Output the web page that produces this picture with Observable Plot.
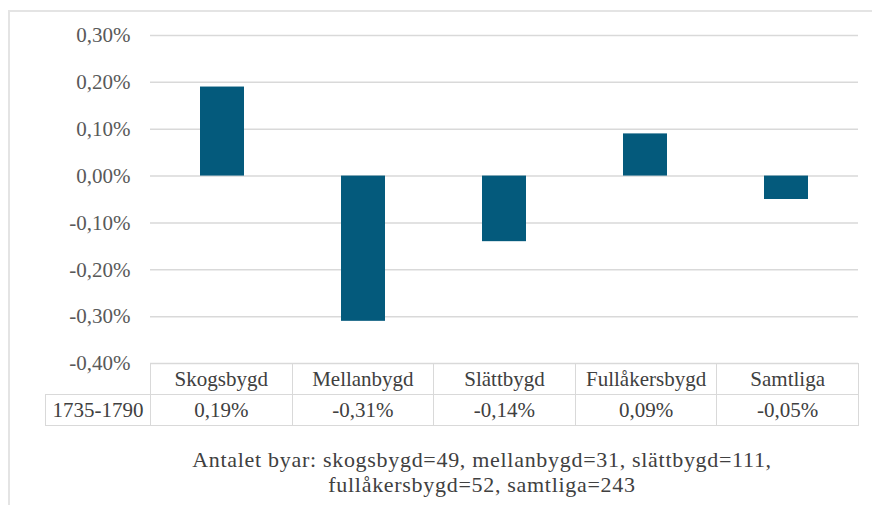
<!DOCTYPE html>
<html>
<head>
<meta charset="utf-8">
<script src="https://cdn.jsdelivr.net/npm/d3@7"></script>
<script src="https://cdn.jsdelivr.net/npm/@observablehq/plot@0.6"></script>
</head>
<body style="margin:0;background:#fff;font-family:'Liberation Serif'">
<div id="wrap" style="position:relative;width:872px;height:505px;overflow:hidden;font-family:'Liberation Serif'">
  <div id="frame" style="position:absolute;left:8px;top:10px;width:1000px;height:1000px;border-top:2px solid #e4e4e4;border-left:2px solid #e4e4e4"></div>
  <div id="chart" style="position:absolute;left:0;top:0"></div>
  <table id="tbl" style="position:absolute;left:45px;top:363px;border-collapse:collapse;table-layout:fixed;font-size:21px;color:#404040;font-family:'Liberation Serif'"></table>
  <div id="caption" style="position:absolute;left:0;top:447px;width:964px;text-align:center;font-size:22px;line-height:25px;letter-spacing:0.7px;color:#404040;font-family:'Liberation Serif'"></div>
</div>
<script>
// ---- data ----
const categories = ["Skogsbygd", "Mellanbygd", "Slättbygd", "Fullåkersbygd", "Samtliga"];
const values = [0.19, -0.31, -0.14, 0.09, -0.05];   // percent
const rowLabel = "1735-1790";
const yTicks = [-0.40, -0.30, -0.20, -0.10, 0.00, 0.10, 0.20, 0.30];
const captionLines = [
  "Antalet byar: skogsbygd=49, mellanbygd=31, slättbygd=111,",
  "fullåkersbygd=52, samtliga=243"
];

const FONT = "'Liberation Serif', 'Times New Roman', serif";
const fmt = d => (Math.abs(d) < 1e-9 ? 0 : d).toFixed(2).replace(".", ",") + "%";
const data = categories.map((c, i) => ({cat: c, value: values[i]}));

const W = 872, ML = 150, MR = 14;
const chart = Plot.plot({
  width: W, height: 364,
  marginLeft: ML, marginRight: MR, marginTop: 35, marginBottom: 1,
  style: {fontSize: "21px", fontFamily: FONT, background: "transparent", overflow: "visible"},
  x: {domain: categories, axis: null, paddingInner: 0.69, paddingOuter: 0.345},
  y: {domain: [-0.40, 0.30], label: null},
  marks: [
    Plot.gridY(yTicks, {stroke: "#d9d9d9", strokeOpacity: 1, strokeWidth: 1.5}),
    Plot.barY(data, {x: "cat", y: "value", fill: "#045a7c"}),
    Plot.axisY(yTicks, {tickSize: 0, tickPadding: 20, tickFormat: fmt, fill: "#595959",
                        fontSize: 21, label: null})
  ]
});
document.getElementById("chart").appendChild(chart);

// ---- data table below the chart ----
const colW = (W - ML - MR) / categories.length;
const tbl = document.getElementById("tbl");
const cellStyle = "border:1.5px solid #d9d9d9;height:30px;padding:0;text-align:center;vertical-align:middle;white-space:nowrap";
let html = `<colgroup><col style="width:${ML - 45}px">` +
  categories.map(() => `<col style="width:${colW}px">`).join("") + `</colgroup>`;
html += `<tr><td style="border:none;border-right:1.5px solid #d9d9d9"></td>` +
  categories.map(c => `<td style="${cellStyle}">${c}</td>`).join("") + `</tr>`;
html += `<tr><td style="${cellStyle}">${rowLabel}</td>` +
  values.map(v => `<td style="${cellStyle}">${fmt(v)}</td>`).join("") + `</tr>`;
tbl.innerHTML = html;

document.getElementById("caption").innerHTML = captionLines.join("<br>");
</script>
</body>
</html>
